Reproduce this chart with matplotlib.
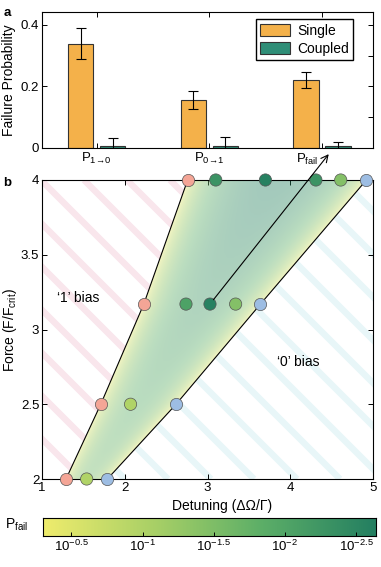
import matplotlib
matplotlib.use("Agg")
import matplotlib.pyplot as plt
from matplotlib.colors import LinearSegmentedColormap
from matplotlib.patches import Polygon, Patch, ConnectionPatch
import numpy as np

plt.rcParams['font.family'] = ['Liberation Sans', 'DejaVu Sans']
plt.rcParams['mathtext.fontset'] = 'custom'
plt.rcParams['mathtext.rm'] = 'Liberation Sans'
plt.rcParams['mathtext.it'] = 'Liberation Sans:italic'
plt.rcParams['mathtext.bf'] = 'Liberation Sans:bold'
plt.rcParams['axes.linewidth'] = 0.8
plt.rcParams['xtick.direction'] = 'in'
plt.rcParams['ytick.direction'] = 'in'

# --- panel a data
cats = ['P$_{1\\!\\rightarrow\\!0}$', 'P$_{0\\!\\rightarrow\\!1}$', 'P$_{\\mathrm{fail}}$']
single = [0.339, 0.156, 0.221]
single_err = [0.051, 0.030, 0.027]
coupled = [0.006, 0.006, 0.006]
coupled_err = [0.027, 0.029, 0.015]

# --- panel b data
force_edge = [2.0, 2.5, 3.17, 4.0]
det_left = [1.29, 1.71, 2.23, 2.76]    # '1' bias boundary
det_right = [1.79, 2.62, 3.64, 4.92]   # '0' bias boundary
det_in = [1.54, 2.07, 2.74, 3.03, 3.34, 3.10, 3.70, 4.31, 4.61]
force_in = [2.0, 2.5, 3.17, 3.17, 3.17, 4.0, 4.0, 4.0, 4.0]
neglog_p_in = [1.0, 1.0, 2.05, 2.6, 1.45, 2.3, 2.6, 2.3, 1.45]   # -log10(P_fail)

cb_ticks = [0.5, 1.0, 1.5, 2.0, 2.5]
cb_labels = ['$10^{-0.5}$', '$10^{-1}$', '$10^{-1.5}$', '$10^{-2}$', '$10^{-2.5}$']
cb_lo, cb_hi = 0.3, 2.64

cmap = LinearSegmentedColormap.from_list(
    'pf', [(0, '#EFEC6D'), (0.353, '#A4CE66'), (0.654, '#5DAF68'), (1, '#247F61')])
orange = '#F4B14A'
teal = '#2F8E77'
salmon = '#F4A596'
blue = '#9DBDE3'

W, H = 381, 567
fig = plt.figure(figsize=(W / 100, H / 100), dpi=100)

# ================= panel a
axa = fig.add_axes([42 / W, 1 - 148 / H, 331 / W, 136 / H])
x = np.arange(1, len(cats) + 1)
ek = dict(ecolor='black', elinewidth=0.8, capsize=3.5, capthick=0.8)
axa.bar(x - 0.142, single, 0.225, yerr=single_err, color=orange,
        edgecolor='#333333', linewidth=0.8, error_kw=ek, label='Single')
axa.bar(x + 0.142, coupled, 0.225, yerr=coupled_err, color=teal,
        edgecolor='#333333', linewidth=0.8, error_kw=ek, label='Coupled')
axa.set_xlim(0.516, 3.453)
axa.set_ylim(0, 0.442)
axa.set_xticks(x)
axa.set_xticklabels(cats[:2] + [''], fontsize=9.5)
# P_fail label sits a bit left of its tick to leave room for the arrow
axa.text(x[2] - 0.135, -0.028, cats[2], fontsize=9.5, ha='center', va='top',
         transform=axa.get_xaxis_transform())
axa.set_yticks([0, 0.2, 0.4])
axa.set_yticklabels(['0', '0.2', '0.4'], fontsize=9.5)
axa.set_yticks([0.1, 0.3], minor=True)
axa.tick_params(top=True, right=True, length=3.5, width=0.7, pad=2)
axa.tick_params(which='minor', right=True, left=False, length=3.5, width=0.7)
axa.set_ylabel('Failure Probability', fontsize=10)
axa.yaxis.set_label_coords(-0.078, 0.5)
axa.legend(handles=[Patch(facecolor=orange, edgecolor='#333333', lw=0.8, label='Single'),
                    Patch(facecolor=teal, edgecolor='#333333', lw=0.8, label='Coupled')],
           loc='upper right', bbox_to_anchor=(0.94, 0.945), fontsize=10,
           fancybox=False, framealpha=1, edgecolor='black', borderpad=0.3,
           handlelength=2.2, handleheight=0.9, handletextpad=0.5, labelspacing=0.3,
           borderaxespad=0)
fig.text(7 / W, 1 - 13 / H, 'a', fontsize=9.5, fontweight='bold', ha='center', va='center')

# ================= panel b
axb = fig.add_axes([42 / W, 1 - 479 / H, 331 / W, 299 / H])
axb.set_xlim(1, 5)
axb.set_ylim(2, 4)

left_reg = Polygon([(1, 2)] + list(zip(det_left, force_edge)) + [(1, 4)],
                   closed=True, fc='none', ec='none', transform=axb.transData)
right_reg = Polygon(list(zip(det_right, force_edge)) + [(5, 4), (5, 2)],
                    closed=True, fc='none', ec='none', transform=axb.transData)
mid_reg = Polygon(list(zip(det_left, force_edge)) + list(zip(det_right, force_edge))[::-1],
                  closed=True, fc='none', ec='none', transform=axb.transData)
for p in (left_reg, right_reg, mid_reg):
    axb.add_patch(p)

# diagonal stripes (45 deg on screen, top-left to bottom-right)
wpx, hpx = 331, 299
dx, dy = 4 / wpx, 2 / hpx
for c in np.arange(40, wpx + hpx + 43, 43):
    xs = [1 + c * dx, 1 + (c - hpx) * dx]
    ys = [2, 4]
    l1, = axb.plot(xs, ys, color='#F9E6EC', lw=4.6, solid_capstyle='butt', zorder=1)
    l1.set_clip_path(left_reg)
    l2, = axb.plot(xs, ys, color='#E8F6F8', lw=4.6, solid_capstyle='butt', zorder=1)
    l2.set_clip_path(right_reg)

# gradient fill between boundaries
gx = np.linspace(1, 5, 400)
gy = np.linspace(2, 4, 200)
GX, GY = np.meshgrid(gx, gy)
xl = np.interp(GY, force_edge, det_left)
xr = np.interp(GY, force_edge, det_right)
t = np.clip((GX - xl) / (xr - xl), 0, 1)
u = (4 * t * (1 - t)) ** 0.6 * (0.55 + 0.45 * (GY - 2) / 2)
im = axb.imshow(cmap(u), extent=(1, 5, 2, 4), origin='lower', aspect='auto',
                alpha=0.42, zorder=2, interpolation='bilinear')
im.set_clip_path(mid_reg)

axb.plot(det_left, force_edge, color='black', lw=0.8, zorder=3)
axb.plot(det_right, force_edge, color='black', lw=0.8, zorder=3)

cols = cmap((np.array(neglog_p_in) - cb_lo) / (cb_hi - cb_lo))
axb.scatter(det_in, force_in, s=78, c=cols, edgecolors='#555555', linewidths=0.5,
            zorder=5, clip_on=False)
axb.scatter(det_left, force_edge, s=78, c=salmon, edgecolors='#555555', linewidths=0.5,
            zorder=5, clip_on=False)
axb.scatter(det_right, force_edge, s=78, c=blue, edgecolors='#555555', linewidths=0.5,
            zorder=5, clip_on=False)

axb.set_xticks([1, 2, 3, 4, 5])
axb.set_xticklabels(['1', '2', '3', '4', '5'], fontsize=9.5)
axb.set_yticks([2, 2.5, 3, 3.5, 4])
axb.set_yticklabels(['2', '2.5', '3', '3.5', '4'], fontsize=9.5)
axb.tick_params(top=True, right=True, length=3.5, width=0.7, pad=2)
axb.set_xlabel('Detuning (ΔΩ/Γ)', fontsize=10)
axb.xaxis.set_label_coords(0.545, -0.066)
axb.set_ylabel('Force (F/F$_{\\mathrm{crit}}$)', fontsize=10)
axb.yaxis.set_label_coords(-0.07, 0.5)
axb.text(1.18, 3.21, '‘1’ bias', fontsize=10, va='center', zorder=6)
axb.text(3.84, 2.78, '‘0’ bias', fontsize=10, va='center', zorder=6)
fig.text(7 / W, 1 - 183 / H, 'b', fontsize=9.5, fontweight='bold', ha='center', va='center')

# arrow from best point to P_fail label
arr = ConnectionPatch(xyA=(3.03, 3.17), coordsA=axb.transData,
                      xyB=(3.06, -0.02), coordsB=axa.transData,
                      arrowstyle='->,head_length=0.5,head_width=0.25',
                      color='black', lw=0.8, shrinkA=4, shrinkB=0, zorder=10)
fig.add_artist(arr)

# ================= colour bar
axc = fig.add_axes([43 / W, 1 - 536 / H, 333 / W, 18 / H])
axc.imshow(np.linspace(cb_lo, cb_hi, 256)[None, :], extent=(cb_lo, cb_hi, 0, 1),
           cmap=cmap, vmin=cb_lo, vmax=cb_hi, aspect='auto')
axc.set_xlim(cb_lo, cb_hi)
axc.set_yticks([])
axc.set_xticks(cb_ticks)
axc.set_xticklabels(cb_labels, fontsize=9.5)
axc.tick_params(length=3, width=0.7, pad=2)
fig.text(5 / W, 1 - 525 / H, 'P$_{\\mathrm{fail}}$', fontsize=10, va='center')

fig.savefig('out.png', dpi=100)
